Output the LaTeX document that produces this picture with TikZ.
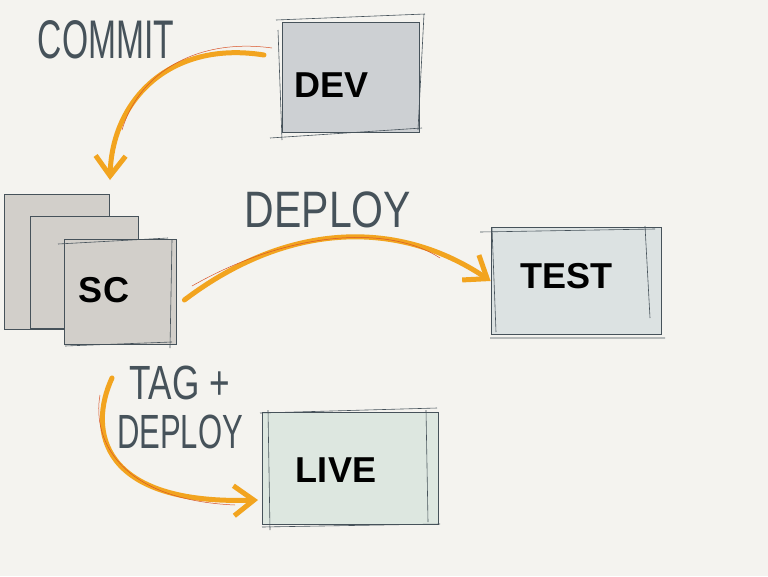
\documentclass[tikz,border=0pt]{standalone}
\usepackage{fontspec}
\setmainfont{Liberation Sans}
\usetikzlibrary{arrows.meta}
\definecolor{paper}{HTML}{F4F3EF}
\definecolor{ink}{HTML}{46525A}
\definecolor{orangeink}{HTML}{F2A41F}
\definecolor{redink}{HTML}{D9542A}
\definecolor{devwash}{HTML}{CDD0D3}
\definecolor{scwash}{HTML}{D2CFCA}
\definecolor{testwash}{HTML}{DCE2E2}
\definecolor{livewash}{HTML}{DDE7E0}
\begin{document}
\begin{tikzpicture}[x=1pt,y=-1pt,
  sketchbox/.style={draw=ink, line width=0.8pt, inner sep=0pt},
  boxlabel/.style={font=\fontsize{36}{36}\selectfont\bfseries, text=black},
  note/.style={font=\fontsize{32}{32}\selectfont, text=ink},
  flow/.style={draw=orangeink, line width=5pt, line cap=round,
    -{Straight Barb[length=20pt,width=30pt,line width=5pt]}}]
\fill[paper] (0,0) rectangle (768,576);
\useasboundingbox (0,0) rectangle (768,576);

% DEV
\node[sketchbox, fill=devwash, minimum width=137pt, minimum height=110pt] (dev) at (351,77) {};
\draw[ink, line width=0.6pt] (276,20) -- (425,14) (270,138) -- (422,128) (278,30) -- (282,140) (424,14) -- (418,130);
\node[boxlabel] (devt) at (332,85) {DEV};

% SC stack
\node[sketchbox, fill=scwash, minimum width=105pt, minimum height=135pt] (scback) at (57,262) {};
\node[sketchbox, fill=scwash, minimum width=108pt, minimum height=112pt] (scmid) at (84,272) {};
\node[sketchbox, fill=scwash, minimum width=112pt, minimum height=105pt] (scfront) at (120,292) {};
\draw[ink, line width=0.6pt] (65,346) -- (172,342) (172,240) -- (170,348) (58,244) -- (168,238);
\node[boxlabel] (sct) at (104,290) {SC};

% TEST
\node[sketchbox, fill=testwash, minimum width=170pt, minimum height=107pt] (test) at (576,281) {};
\draw[ink, line width=0.6pt] (480,232) -- (655,229) (490,338) -- (665,338) (492,228) -- (496,332) (645,226) -- (650,318);
\node[boxlabel] (testt) at (566,276) {TEST};

% LIVE
\node[sketchbox, fill=livewash, minimum width=176pt, minimum height=112pt] (live) at (350,468) {};
\draw[ink, line width=0.6pt] (260,413) -- (437,408) (262,527) -- (440,524) (268,410) -- (270,530) (426,410) -- (428,522);
\node[boxlabel] (livet) at (336,470) {LIVE};

% notes
\node[note] (commit) at (106,40) {\scalebox{1.05}[1.7]{COMMIT}};
\node[note] (deploy1) at (328,210) {\scalebox{1.28}[1.6]{DEPLOY}};
\node[note] (tag) at (180,383) {\scalebox{1.1}[1.5]{TAG +}};
\node[note] (deploy2) at (180,432) {\scalebox{0.97}[1.5]{DEPLOY}};

% connectors
\coordinate (c1s) at (264,55);
\coordinate (c1e) at (110,180);
\draw[flow] (c1s) .. controls (170,40) and (112,100) .. (c1e);
\draw[redink, line width=0.5pt] (272,48) .. controls (200,38) and (140,70) .. (122,130);

\coordinate (c2s) at (scfront.east);
\draw[flow] ([shift={(8pt,-8pt)}]c2s) .. controls (290,220) and (400,220) .. (test.west);
\draw[redink, line width=0.5pt] (192,286) .. controls (290,230) and (390,225) .. (440,258);

\coordinate (c3s) at (112,378);
\coordinate (c3e) at (258,500);
\draw[flow] (c3s) .. controls (88,430) and (100,505) .. (c3e);
\draw[redink, line width=0.5pt] (100,395) .. controls (92,440) and (120,500) .. (235,505);
\end{tikzpicture}
\end{document}
